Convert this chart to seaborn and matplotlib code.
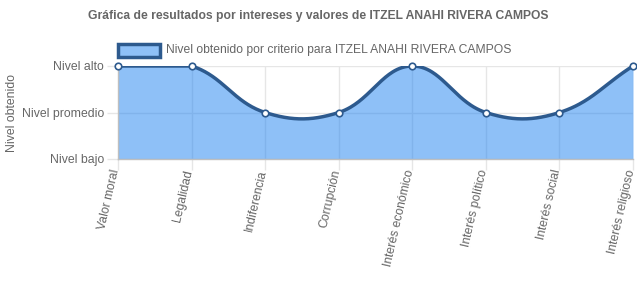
import numpy as np
import pandas as pd
import matplotlib
matplotlib.use("Agg")
import matplotlib.pyplot as plt
import matplotlib.transforms as mtrans
import seaborn as sns

categories = ["Valor moral", "Legalidad", "Indiferencia", "Corrupción",
              "Interés económico", "Interés político", "Interés social", "Interés religioso"]
values = [2, 2, 1, 1, 2, 1, 1, 2]
level_labels = ["Nivel bajo", "Nivel promedio", "Nivel alto"]
title = "Gráfica de resultados por intereses y valores de ITZEL ANAHI RIVERA CAMPOS"
series_name = "Nivel obtenido por criterio para ITZEL ANAHI RIVERA CAMPOS"
y_title = "Nivel obtenido"

sns.set_theme(style="white")
plt.rcParams['font.family'] = ['Liberation Sans', 'DejaVu Sans']

W, H = 637, 307
fig = plt.figure(figsize=(W / 100, H / 100), dpi=100)
L, R, T, B = 118, 633, 66, 159
ax = fig.add_axes([L / W, 1 - B / H, (R - L) / W, (B - T) / H])

n = len(categories)
xs = np.arange(n, dtype=float)
ys = np.array(values, dtype=float)
ymin, ymax = 0.0, 2.0

# Chart.js-like spline (tension 0.4) computed in pixel space
sx = (R - L) / (n - 1)
sy = (B - T) / (ymax - ymin)
px, py = xs * sx, ys * sy
tension = 0.4
cp_prev, cp_next = [], []
for i in range(n):
    p0 = (px[max(i - 1, 0)], py[max(i - 1, 0)])
    p1 = (px[i], py[i])
    p2 = (px[min(i + 1, n - 1)], py[min(i + 1, n - 1)])
    d01 = np.hypot(p1[0] - p0[0], p1[1] - p0[1])
    d12 = np.hypot(p2[0] - p1[0], p2[1] - p1[1])
    tot = d01 + d12
    s01 = d01 / tot if tot else 0
    s12 = d12 / tot if tot else 0
    fa, fb = tension * s01, tension * s12
    cpp = (p1[0] - fa * (p2[0] - p0[0]), p1[1] - fa * (p2[1] - p0[1]))
    cpn = (p1[0] + fb * (p2[0] - p0[0]), p1[1] + fb * (p2[1] - p0[1]))
    clamp = lambda c: (min(max(c[0], 0), px[-1]), min(max(c[1], ymin * sy), ymax * sy))
    cp_prev.append(clamp(cpp))
    cp_next.append(clamp(cpn))

cx, cy = [], []
t = np.linspace(0, 1, 60)
for i in range(n - 1):
    P0 = np.array([px[i], py[i]])
    P1 = np.array(cp_next[i])
    P2 = np.array(cp_prev[i + 1])
    P3 = np.array([px[i + 1], py[i + 1]])
    pts = ((1 - t) ** 3)[:, None] * P0 + (3 * (1 - t) ** 2 * t)[:, None] * P1 \
        + (3 * (1 - t) * t ** 2)[:, None] * P2 + (t ** 3)[:, None] * P3
    cx.extend(pts[:, 0] / sx)
    cy.extend(pts[:, 1] / sy)
curve = pd.DataFrame({"x": cx, "y": cy})
pts_df = pd.DataFrame({"x": xs, "y": ys})

fill_col = (30 / 255, 130 / 255, 240 / 255, 0.5)
line_col = "#2d5a8e"
grid_col = "#e6e6e6"

ax.fill_between(curve["x"], 0, curve["y"], color=fill_col, linewidth=0, zorder=2)
sns.lineplot(data=curve, x="x", y="y", ax=ax, color=line_col, linewidth=2.5,
             sort=False, zorder=3, legend=False)
sns.scatterplot(data=pts_df, x="x", y="y", ax=ax, s=22, color="white",
                edgecolor=line_col, linewidth=1.2, zorder=4, legend=False, clip_on=False)

ax.set_xlim(0, n - 1)
ax.set_ylim(ymin, ymax)
ax.set_xticks(xs)
ax.set_xticklabels([])
lbl_tr = ax.get_xaxis_transform() + mtrans.ScaledTranslation(-2 / 100, -11 / 100, fig.dpi_scale_trans)
for xi, cat in zip(xs, categories):
    ax.text(xi, 0, cat, transform=lbl_tr, rotation=77, ha="right", va="center",
            rotation_mode="anchor", fontsize=8.7, color="#666666", clip_on=False)
ax.set_yticks([0, 1, 2])
ax.set_yticklabels(level_labels, fontsize=8.8, color="#666666")
ax.tick_params(axis="both", length=8, width=1, color=grid_col, pad=2, direction="out",
               bottom=True, left=True)
ax.grid(True, color=grid_col, linewidth=1, zorder=0)
ax.set_axisbelow(True)
for s in ["top", "right"]:
    ax.spines[s].set_visible(False)
for s in ["left", "bottom"]:
    ax.spines[s].set_color("#bfbfbf")
    ax.spines[s].set_linewidth(1)
ax.set_xlabel("")
ax.set_ylabel(y_title, fontsize=8.8, color="#666666")
ax.yaxis.set_label_coords((18 - L) / (R - L), 0.5)

fig.text(318 / W, 1 - 16 / H, title, ha="center", va="center", fontsize=8.7,
         fontweight="bold", color="#666666")
# legend
fig.patches.append(plt.Rectangle((118 / W, 1 - 57 / H), 42 / W, 13 / H,
                                 transform=fig.transFigure, facecolor=fill_col,
                                 edgecolor=line_col, linewidth=2.5))
fig.text(166 / W, 1 - 50 / H, series_name, ha="left", va="center", fontsize=8.7,
         color="#666666")

fig.savefig("out.png", dpi=100)
